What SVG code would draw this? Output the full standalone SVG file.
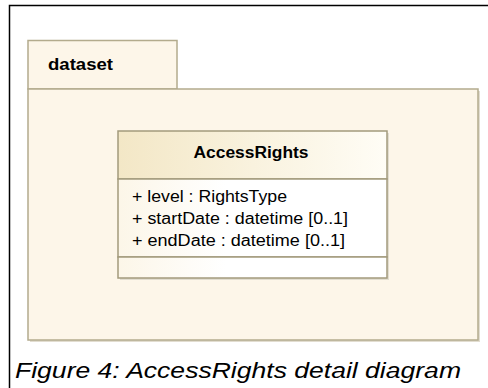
<svg xmlns="http://www.w3.org/2000/svg" width="488" height="388" viewBox="0 0 488 388">
  <defs>
    <linearGradient id="hdr" x1="0" y1="0" x2="1" y2="0">
      <stop offset="0" stop-color="#f3e7c6"/>
      <stop offset="1" stop-color="#fffdf6"/>
    </linearGradient>
    <linearGradient id="bdy" x1="0" y1="0" x2="1" y2="0">
      <stop offset="0" stop-color="#fcf6e8"/>
      <stop offset="0.4" stop-color="#ffffff"/>
      <stop offset="1" stop-color="#ffffff"/>
    </linearGradient>
  </defs>
  <style>
    .pkg { fill: #fdf6e9; stroke: #b3ab8d; stroke-width: 1.5; }
    .shadow { fill: #e2ddd0; }
    .cls { stroke: #a39a7c; stroke-width: 1.5; }
    .t { font-family: "Liberation Sans", Arial, sans-serif; fill: #000; }
    .b { font-weight: bold; }
  </style>
  <rect x="0" y="0" width="488" height="388" fill="#ffffff"/>
  <path d="M9.5 388 V5.5 H488" fill="none" stroke="#000" stroke-width="1.5"/>

  <g id="dataset">
    <rect class="shadow" x="30" y="91" width="450" height="251"/>
    <rect class="pkg" x="28" y="40.5" width="149" height="48.5"/>
    <rect class="pkg" x="28" y="89" width="450" height="251"/>
    <text class="t b" x="48" y="70" font-size="17" textLength="65" lengthAdjust="spacingAndGlyphs">dataset</text>
  </g>

  <g id="AccessRights">
    <rect class="shadow" x="120" y="133" width="269" height="147"/>
    <rect x="118" y="131" width="269" height="48" fill="url(#hdr)" class="cls"/>
    <rect x="118" y="179" width="269" height="78" fill="url(#bdy)" class="cls"/>
    <rect x="118" y="257" width="269" height="21" fill="url(#bdy)" class="cls"/>
    <text class="t b" x="251" y="158" font-size="16" text-anchor="middle" textLength="115" lengthAdjust="spacingAndGlyphs">AccessRights</text>
    <text class="t" x="132" y="202" font-size="16" textLength="155" lengthAdjust="spacingAndGlyphs">+ level : RightsType</text>
    <text class="t" x="132" y="224" font-size="16" textLength="216" lengthAdjust="spacingAndGlyphs">+ startDate : datetime [0..1]</text>
    <text class="t" x="132" y="246" font-size="16" textLength="213" lengthAdjust="spacingAndGlyphs">+ endDate : datetime [0..1]</text>
  </g>

  <g id="connectors"></g>

  <text class="t" x="15" y="378" font-size="22" font-style="italic" textLength="446" lengthAdjust="spacingAndGlyphs">Figure 4: AccessRights detail diagram</text>
</svg>
